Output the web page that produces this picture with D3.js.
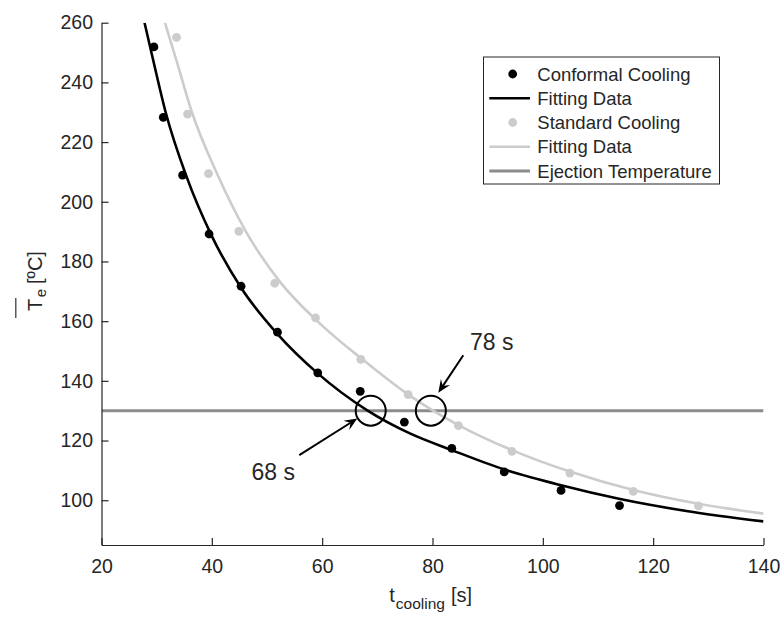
<!DOCTYPE html>
<html>
<head>
<meta charset="utf-8">
<script src="https://cdn.jsdelivr.net/npm/d3@7"></script>
<style>
  body { margin: 0; background: #fff; }
  svg { display: block; }
  text { font-family: "Liberation Sans", Arial, Helvetica, sans-serif; fill: #262626; }
</style>
</head>
<body>
<svg id="chart" width="782" height="617"></svg>
<script>
// Measured mean part temperature at ejection vs. cooling time
const conformalTime = [29.5, 31.2, 34.7, 39.5, 45.3, 51.9, 59.2, 66.9, 74.9, 83.5, 93.0, 103.3, 113.9];
const conformalTemp = [251.9, 228.3, 208.9, 189.2, 171.7, 156.3, 142.7, 136.5, 126.2, 117.4, 109.5, 103.3, 98.2];
const standardTime  = [33.6, 35.6, 39.4, 44.9, 51.4, 58.8, 67.0, 75.6, 84.7, 94.4, 104.9, 116.4, 128.2];
const standardTemp  = [255.1, 229.4, 209.4, 190.1, 172.7, 161.1, 147.2, 135.4, 125.0, 116.4, 109.1, 103.0, 98.1];

// Fitted curves, sampled along their length
const conformalFitTime = [27.8, 29.3, 31.7, 35.4, 40, 45.3, 52, 59.2, 68.1, 76, 83.5, 93, 103.3, 114, 126, 140];
const conformalFitTemp = [260, 248, 229.5, 208.5, 188.5, 171.2, 155.5, 142.5, 130.2, 122.3, 116.8, 110.3, 105, 100.4, 96.4, 92.9];
const standardFitTime  = [31.5, 33.8, 36.3, 41, 46, 52, 60, 67.3, 75.6, 84.7, 94.4, 104.9, 116.4, 128.2, 140];
const standardFitTemp  = [260, 246, 230.5, 209.2, 190.6, 174, 158.5, 147.2, 135.4, 125.2, 116.8, 109.6, 103.4, 98.8, 95.5];

// Ejection temperature and where each fit reaches it
const ejectionTemp = 130;
const crossTimes  = [68.8, 79.7];
const crossLabels = ["68 s", "78 s"];

// Axes
const xDomain = [20, 140];
const yDomain = [85, 260];
const xTicks = [20, 40, 60, 80, 100, 120, 140];
const yTicks = [100, 120, 140, 160, 180, 200, 220, 240, 260];

const legendLabels = ["Conformal Cooling", "Fitting Data", "Standard Cooling", "Fitting Data", "Ejection Temperature"];

// ---- drawing ----
const svg = d3.select("#chart");
const axisColor = "#262626";
const black = "#000000", light = "#cccccc", mid = "#8c8c8c";

const x = d3.scaleLinear().domain(xDomain).range([101.5, 763.5]);
const y = d3.scaleLinear().domain(yDomain).range([545, 22.7]);

// Annotation layout (data coordinates)
const arrowFrom  = [[55.85, 115.1], [85.58, 148.6]];
const arrowTo    = [[66.37, 127.4], [81.05, 136.0]];
const labelAt    = [[47.2, 106.9], [86.8, 150.5]];

const plot = svg.append("g");

// clip to plot area
svg.append("defs").append("clipPath").attr("id", "plotClip")
  .append("rect").attr("x", x(xDomain[0])).attr("y", y(yDomain[1]))
  .attr("width", x(xDomain[1]) - x(xDomain[0])).attr("height", y(yDomain[0]) - y(yDomain[1]));

const layer = plot.append("g").attr("clip-path", "url(#plotClip)");

// ejection temperature line
layer.append("line")
  .attr("x1", x(xDomain[0])).attr("x2", x(xDomain[1]))
  .attr("y1", y(ejectionTemp)).attr("y2", y(ejectionTemp))
  .attr("stroke", mid).attr("stroke-width", 3);

const line = d3.line().x(d => x(d[0])).y(d => y(d[1])).curve(d3.curveMonotoneX);

layer.append("path")
  .datum(standardFitTime.map((t, i) => [t, standardFitTemp[i]]))
  .attr("d", line).attr("fill", "none").attr("stroke", light).attr("stroke-width", 2.6);

layer.append("path")
  .datum(conformalFitTime.map((t, i) => [t, conformalFitTemp[i]]))
  .attr("d", line).attr("fill", "none").attr("stroke", black).attr("stroke-width", 2.6);

layer.selectAll(".std").data(standardTime.map((t, i) => [t, standardTemp[i]]))
  .join("circle").attr("class", "std")
  .attr("cx", d => x(d[0])).attr("cy", d => y(d[1])).attr("r", 4.4).attr("fill", light);

layer.selectAll(".conf").data(conformalTime.map((t, i) => [t, conformalTemp[i]]))
  .join("circle").attr("class", "conf")
  .attr("cx", d => x(d[0])).attr("cy", d => y(d[1])).attr("r", 4.4).attr("fill", black);

// circles marking the intersections
plot.selectAll(".cross").data(crossTimes).join("circle").attr("class", "cross")
  .attr("cx", d => x(d)).attr("cy", y(ejectionTemp)).attr("r", 15)
  .attr("fill", "none").attr("stroke", black).attr("stroke-width", 2);

// arrows
function arrow(from, to) {
  const x0 = x(from[0]), y0 = y(from[1]), x1 = x(to[0]), y1 = y(to[1]);
  const dx = x1 - x0, dy = y1 - y0, len = Math.hypot(dx, dy);
  const ux = dx / len, uy = dy / len, px = -uy, py = ux;
  const L = 13, W = 5.5, N = 8;
  plot.append("line")
    .attr("x1", x0).attr("y1", y0).attr("x2", x1 - ux * N).attr("y2", y1 - uy * N)
    .attr("stroke", black).attr("stroke-width", 2);
  const pts = [
    [x1, y1],
    [x1 - ux * L + px * W, y1 - uy * L + py * W],
    [x1 - ux * N, y1 - uy * N],
    [x1 - ux * L - px * W, y1 - uy * L - py * W]
  ];
  plot.append("path").attr("d", "M" + pts.map(p => p.join(",")).join("L") + "Z").attr("fill", black);
}
crossTimes.forEach((_, i) => arrow(arrowFrom[i], arrowTo[i]));

plot.selectAll(".clabel").data(crossLabels).join("text").attr("class", "clabel")
  .attr("x", (d, i) => x(labelAt[i][0])).attr("y", (d, i) => y(labelAt[i][1]))
  .attr("font-size", 23).text(d => d);

// axes
const xAxis = d3.axisBottom(x).tickValues(xTicks).tickSizeInner(-7).tickSizeOuter(0).tickPadding(14);
const yAxis = d3.axisLeft(y).tickValues(yTicks).tickSizeInner(-7).tickSizeOuter(0).tickPadding(8.5);

const gx = svg.append("g").attr("transform", `translate(0,${y(yDomain[0])})`).call(xAxis);
const gy = svg.append("g").attr("transform", `translate(${x(xDomain[0])},0)`).call(yAxis);
[gx, gy].forEach(g => {
  g.select(".domain").attr("stroke", axisColor).attr("stroke-width", 1.2);
  g.selectAll(".tick line").attr("stroke", axisColor).attr("stroke-width", 1.2);
  g.selectAll(".tick text").attr("font-size", 19.5).attr("fill", axisColor)
    .attr("font-family", '"Liberation Sans", Arial, sans-serif');
});

// x label: t_cooling [s]
const xl = svg.append("text").attr("x", 389.3).attr("y", 601.5).attr("font-size", 20);
xl.append("tspan").text("t");
xl.append("tspan").attr("font-size", 15.5).attr("dy", 7).attr("dx", 1).text("cooling");
xl.append("tspan").attr("dy", -7).attr("dx", 6).text("[s]");

// y label: mean T_e [ºC] with an overbar
const yl = svg.append("g").attr("transform", "translate(41.5,311) rotate(-90)");
const yt = yl.append("text").attr("x", 0).attr("y", 0).attr("font-size", 20);
yt.append("tspan").text("T");
yt.append("tspan").attr("font-size", 15).attr("dy", 4).attr("dx", 1.5).text("e");
yt.append("tspan").attr("dy", -4).attr("dx", 5).text("[ºC]");
yl.append("line").attr("x1", -7).attr("x2", 13).attr("y1", -25.7).attr("y2", -25.7)
  .attr("stroke", "#404040").attr("stroke-width", 1.3);

// legend
const lg = svg.append("g");
const lgTop = 57, lgBottom = 184, lgLeft = 483.5, lgRight = 719.5;
lg.append("rect").attr("x", lgLeft).attr("y", lgTop).attr("width", lgRight - lgLeft).attr("height", lgBottom - lgTop)
  .attr("fill", "#fff").attr("stroke", axisColor).attr("stroke-width", 1);
const rowY = i => 74 + i * 24.25;
const symbols = [
  { type: "dot", color: black },
  { type: "line", color: black },
  { type: "dot", color: light },
  { type: "line", color: light },
  { type: "line", color: mid, width: 3 }
];
legendLabels.forEach((lab, i) => {
  const s = symbols[i];
  if (s.type === "dot") {
    lg.append("circle").attr("cx", 512.7).attr("cy", rowY(i)).attr("r", 4.4).attr("fill", s.color);
  } else {
    lg.append("line").attr("x1", 489.3).attr("x2", 530).attr("y1", rowY(i)).attr("y2", rowY(i))
      .attr("stroke", s.color).attr("stroke-width", s.width || 2.6);
  }
  lg.append("text").attr("x", 537.3).attr("y", rowY(i)).attr("dy", "0.36em")
    .attr("font-size", 18.5).attr("fill", "#000").text(lab);
});
</script>
</body>
</html>
